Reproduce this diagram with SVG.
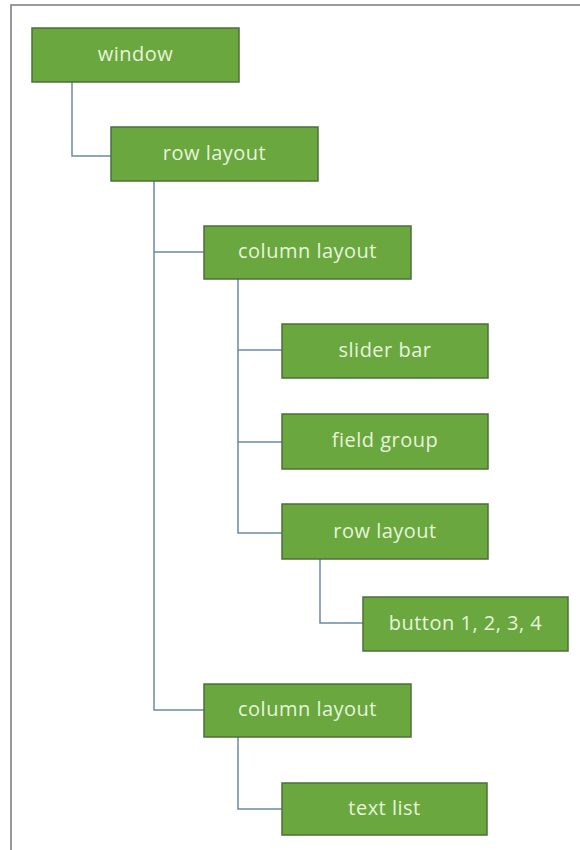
<svg xmlns="http://www.w3.org/2000/svg" width="580" height="850" viewBox="0 0 580 850">
  <style>
    .node rect { fill: #6aa73e; stroke: #4d6f3a; stroke-width: 1.5; }
    .node text { fill: #e6f5dc; font-family: "Open Sans", "DejaVu Sans", sans-serif; font-size: 20px; letter-spacing: 0.5px; text-anchor: middle; }
    .edges path { fill: none; stroke: #6a8bab; stroke-width: 1.5; }
    .frame { fill: none; stroke: #7a7a7a; stroke-width: 1.5; }
  </style>

  <rect x="0" y="0" width="580" height="850" fill="#ffffff"/>
  <!-- outer frame: top and left edges only -->
  <path class="frame" d="M11,850 V5 H580"/>

  <g class="edges">
    <path d="M72,82 V156 H111"/>
    <path d="M154,181 V252 H204"/>
    <path d="M154,252 V710 H204"/>
    <path d="M238,279 V350 H282"/>
    <path d="M238,350 V442 H282"/>
    <path d="M238,442 V533 H282"/>
    <path d="M320,559 V623 H363"/>
    <path d="M238,737 V809 H282"/>
  </g>

  <g id="window" class="node">
    <rect x="32" y="28" width="207" height="54"/>
    <text x="135.5" y="61">window</text>
  </g>
  <g id="row-layout-1" class="node">
    <rect x="111" y="127" width="207" height="54"/>
    <text x="214.5" y="160">row layout</text>
  </g>
  <g id="column-layout-1" class="node">
    <rect x="204" y="226" width="207" height="53"/>
    <text x="307.5" y="258">column layout</text>
  </g>
  <g id="slider-bar" class="node">
    <rect x="282" y="324" width="206" height="54"/>
    <text x="385" y="357">slider bar</text>
  </g>
  <g id="field-group" class="node">
    <rect x="282" y="414" width="206" height="55"/>
    <text x="385" y="447">field group</text>
  </g>
  <g id="row-layout-2" class="node">
    <rect x="282" y="504" width="206" height="55"/>
    <text x="385" y="538">row layout</text>
  </g>
  <g id="buttons" class="node">
    <rect x="363" y="597" width="205" height="54"/>
    <text x="465.5" y="630">button 1, 2, 3, 4</text>
  </g>
  <g id="column-layout-2" class="node">
    <rect x="204" y="684" width="207" height="53"/>
    <text x="307.5" y="716">column layout</text>
  </g>
  <g id="text-list" class="node">
    <rect x="282" y="783" width="205" height="52"/>
    <text x="384.5" y="815">text list</text>
  </g>
</svg>
